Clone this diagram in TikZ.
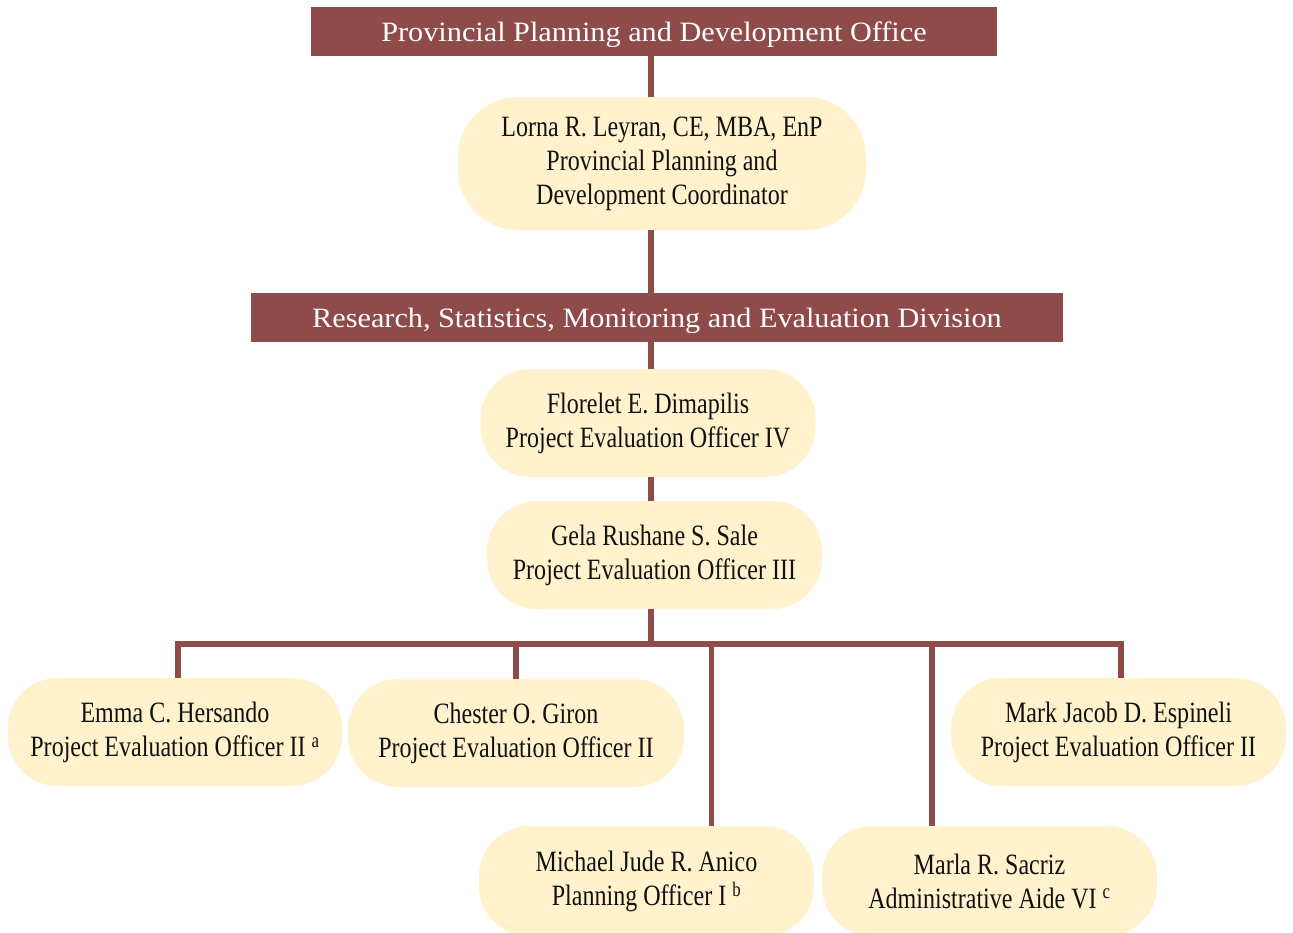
\documentclass[tikz,border=0pt]{standalone}
\usepackage{fontspec}
\setmainfont{Liberation Serif}
\newfontfamily\bannerfont[FakeStretch=1.08]{Liberation Serif}
\newfontfamily\namefont[FakeStretch=0.815]{Liberation Serif}
\definecolor{chartred}{HTML}{8E4B49}
\definecolor{personfill}{HTML}{FFF2CC}
\definecolor{nametext}{HTML}{111111}
\tikzset{
  banner/.style={fill=chartred, text=white, minimum width=#1, minimum height=49pt, inner sep=0pt,
    text depth=0pt, font=\bannerfont\fontsize{28}{30}\selectfont},
  person/.style={fill=personfill, rounded corners=50pt, minimum height=108pt, minimum width=335pt,
    inner sep=0pt, align=center, text=nametext, font=\namefont\fontsize{29.5}{34}\selectfont},
  link/.style={draw=chartred, line width=5.5pt},
}
\begin{document}
\begin{tikzpicture}[x=1pt,y=-1pt]
\useasboundingbox (0,0) rectangle (1293,932);
\clip (0,0) rectangle (1293,932);
\fill[white] (0,0) rectangle (1293,932);

% spine coordinates
\coordinate (spine) at (651,0);
\coordinate (bus) at (651,644);
\coordinate (dE) at (178,644);
\coordinate (dC) at (516,644);
\coordinate (dMi) at (711.5,644);
\coordinate (dMa) at (932,644);
\coordinate (dMk) at (1121,644);

% nodes
\node[banner=686pt] (b1) at (654,31.5) {Provincial Planning and Development Office};
\node[person, minimum width=408pt, minimum height=133pt, rounded corners=60pt] (n1) at (662,163.5)
  {Lorna R. Leyran, CE, MBA, EnP\\Provincial Planning and\\Development Coordinator};
\node[banner=812pt] (b2) at (657,317.5) {Research, Statistics, Monitoring and Evaluation Division};
\node[person] (n2) at (648,423) {Florelet E. Dimapilis\\Project Evaluation Officer IV};
\node[person] (n3) at (654.5,555) {Gela Rushane S. Sale\\Project Evaluation Officer III};
\node[person, minimum width=334pt] (emma) at (175,732) {Emma C. Hersando\\Project Evaluation Officer II \textsuperscript{a}};
\node[person, minimum width=336pt] (chester) at (516,733) {Chester O. Giron\\Project Evaluation Officer II};
\node[person] (mark) at (1118.5,732) {Mark Jacob D. Espineli\\Project Evaluation Officer II};
\node[person, minimum height=110pt] (michael) at (646.5,881) {Michael Jude R. Anico\\Planning Officer I \textsuperscript{b}};
\node[person, minimum height=110pt] (marla) at (989.5,881) {Marla R. Sacriz\\Administrative Aide VI \textsuperscript{c}};

% connectors
\draw[link] (b1.south -| spine) -- (n1.north -| spine);
\draw[link] (n1.south -| spine) -- (b2.north -| spine);
\draw[link] (b2.south -| spine) -- (n2.north -| spine);
\draw[link] (n2.south -| spine) -- (n3.north -| spine);
\draw[link] (n3.south -| spine) -- (bus);
\draw[link] (dE |- emma.north) -- (dE) -- (dMk) -- (dMk |- mark.north);
\draw[link] (dC) -- (dC |- chester.north);
\draw[link] (dMi) -- (dMi |- michael.north);
\draw[link] (dMa) -- (dMa |- marla.north);
\end{tikzpicture}
\end{document}
